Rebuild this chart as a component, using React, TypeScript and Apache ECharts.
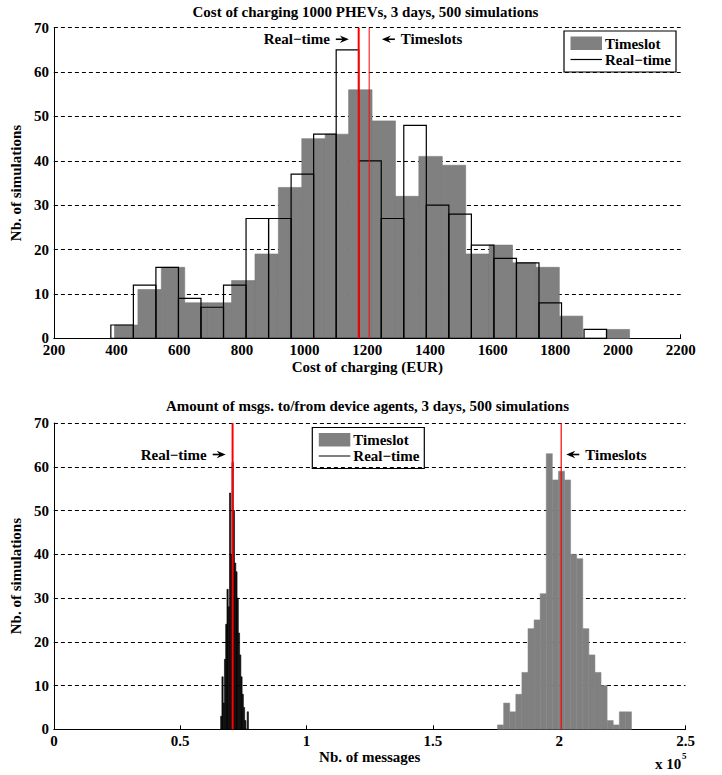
import React, { useEffect, useRef } from 'react';
import * as echarts from 'echarts';

const FONT = '"Liberation Serif", "Times New Roman", serif';
const BOLD15 = `bold 15px ${FONT}`;

// ---------- Top chart: cost of charging ----------
const costTitle = 'Cost of charging 1000 PHEVs, 3 days, 500 simulations';
const costAxisName = 'Cost of charging (EUR)';
const costMin = 200;
const costMax = 2200;
const costInterval = 200;
const costTimeslotStart = 393.4;
const costTimeslotWidth = 74.7;
const costTimeslotCounts = [3, 11, 16, 8, 8, 13, 19, 34, 45, 46, 56, 49, 32, 41, 39, 19, 21, 17, 16, 5, 0, 2];
const costRealtimeStart = 381.7;
const costRealtimeWidth = 71.9;
const costRealtimeCounts = [3, 12, 16, 9, 7, 12, 27, 27, 37, 46, 65, 40, 27, 48, 30, 28, 21, 18, 17, 8, 0, 2];
const costRealtimeMean = 1172.5;
const costTimeslotMean = 1206;
const costAnnotX = [1141, 1246.5];
const costAnnotY = [67.4, 67.4];

// ---------- Bottom chart: messages ----------
const msgTitle = 'Amount of msgs. to/from device agents, 3 days, 500 simulations';
const msgAxisName = 'Nb. of messages';
const msgMin = 0;
const msgMax = 250000;
const msgInterval = 50000;
const msgTimeslotStart = 175600;
const msgTimeslotWidth = 2410;
const msgTimeslotCounts = [1, 6, 4, 8, 13, 23, 25, 31, 63, 57, 59, 57, 40, 39, 23, 17, 13, 10, 2, 1, 4, 4];
const msgRealtimeStart = 66000;
const msgRealtimeWidth = 500;
const msgRealtimeCounts = [3, 12, 6, 16, 24, 32, 28, 54, 40, 61, 50, 38, 36, 30, 22, 17, 12, 8, 5, 2, 0, 4];
const msgRealtimeMean = 70730;
const msgTimeslotMean = 200800;
const msgAnnotX = [68000, 202800];
const msgAnnotY = [62.8, 62.8];
const msgScaleLabel = 'x 10';
const msgScaleExp = '5';

// ---------- Shared ----------
const yAxisName = 'Nb. of simulations';
const yMin = 0;
const yMax = 70;
const yInterval = 10;
const annotLabels = ['Real\u2212time', 'Timeslots'];
const annotDirs = [1, -1];
const legendLabels = ['Timeslot', 'Real\u2212time'];

const GRAY = '#808080';

function histData(start: number, width: number, counts: number[]) {
  return counts.map((c, i) => [start + i * width, start + (i + 1) * width, c]);
}

function histSeries(name: string, idx: number, data: number[][], style: any) {
  return {
    type: 'custom',
    name,
    xAxisIndex: idx,
    yAxisIndex: idx,
    data,
    encode: { x: [0, 1], y: 2 },
    renderItem: (params: any, api: any) => {
      const p0 = api.coord([api.value(0), 0]);
      const p1 = api.coord([api.value(1), api.value(2)]);
      return {
        type: 'rect',
        shape: { x: p0[0], y: p1[1], width: p1[0] - p0[0], height: p0[1] - p1[1] },
        style,
      };
    },
  };
}

function meanLineSeries(idx: number, values: number[], widths: number[]) {
  return {
    type: 'custom',
    xAxisIndex: idx,
    yAxisIndex: idx,
    data: values.map((v) => [v]),
    encode: { x: 0 },
    renderItem: (params: any, api: any) => {
      const pb = api.coord([api.value(0), yMin]);
      const pt = api.coord([api.value(0), yMax]);
      return {
        type: 'line',
        shape: { x1: pb[0], y1: pb[1], x2: pt[0], y2: pt[1] },
        style: { stroke: '#ff0000', lineWidth: widths[params.dataIndex] },
      };
    },
  };
}

function annotSeries(idx: number, xs: number[], ys: number[]) {
  return {
    type: 'custom',
    xAxisIndex: idx,
    yAxisIndex: idx,
    data: xs.map((x, i) => [x, ys[i]]),
    encode: { x: 0, y: 1 },
    renderItem: (params: any, api: any) => {
      const p = api.coord([api.value(0), api.value(1)]);
      const s = annotDirs[params.dataIndex];
      const tx = p[0];
      const ty = p[1];
      return {
        type: 'group',
        children: [
          {
            type: 'line',
            shape: { x1: tx - s * 13, y1: ty, x2: tx - s * 5, y2: ty },
            style: { stroke: '#000', lineWidth: 1.6 },
          },
          {
            type: 'polygon',
            shape: {
              points: [
                [tx, ty],
                [tx - s * 9, ty - 3.8],
                [tx - s * 6, ty],
                [tx - s * 9, ty + 3.8],
              ],
            },
            style: { fill: '#000' },
          },
          {
            type: 'text',
            x: tx - s * 19,
            y: ty,
            style: {
              text: annotLabels[params.dataIndex],
              font: BOLD15,
              fill: '#000',
              align: s > 0 ? 'right' : 'left',
              verticalAlign: 'middle',
              textAlign: s > 0 ? 'right' : 'left',
              textVerticalAlign: 'middle',
            },
          },
        ],
      };
    },
  };
}

function legendGraphic(left: number, top: number) {
  return {
    type: 'group',
    x: left,
    y: top,
    children: [
      { type: 'rect', shape: { x: 0, y: 0, width: 112, height: 41 }, style: { fill: '#fff', stroke: '#000', lineWidth: 1.2 } },
      { type: 'rect', shape: { x: 6.5, y: 5.5, width: 31.5, height: 13.5 }, style: { fill: GRAY } },
      { type: 'line', shape: { x1: 6.5, y1: 28.5, x2: 38, y2: 28.5 }, style: { stroke: '#000', lineWidth: 1.2 } },
      { type: 'text', x: 41, y: 12.5, style: { text: legendLabels[0], font: BOLD15, fill: '#000', verticalAlign: 'middle', textVerticalAlign: 'middle' } },
      { type: 'text', x: 41, y: 28.5, style: { text: legendLabels[1], font: BOLD15, fill: '#000', verticalAlign: 'middle', textVerticalAlign: 'middle' } },
    ],
  };
}

const labelStyle = { fontFamily: FONT, fontWeight: 'bold', fontSize: 15, color: '#000' };

function yAxisOpt(idx: number) {
  return {
    type: 'value',
    gridIndex: idx,
    min: yMin,
    max: yMax,
    interval: yInterval,
    name: yAxisName,
    nameLocation: 'middle',
    nameGap: 25,
    nameTextStyle: { ...labelStyle },
    axisLine: { show: true, lineStyle: { color: '#000', width: 1 } },
    axisTick: { show: true, inside: true, length: 4, lineStyle: { color: '#000' } },
    axisLabel: { ...labelStyle, margin: 5, lineHeight: 12 },
    splitLine: { show: true, lineStyle: { color: '#000', width: 1, type: [4, 3] } },
  };
}

export default function App() {
  const ref = useRef<HTMLDivElement>(null);
  useEffect(() => {
    if (!ref.current) return;
    const chart = echarts.init(ref.current, undefined, { renderer: 'svg' });
    const option: any = {
      animation: false,
      backgroundColor: '#fff',
      title: [
        { text: costTitle, left: 365.4, top: 4, padding: 0, textAlign: 'center', textStyle: { ...labelStyle, lineHeight: 16 } },
        { text: msgTitle, left: 367.5, top: 398, padding: 0, textAlign: 'center', textStyle: { ...labelStyle, lineHeight: 16 } },
      ],
      grid: [
        { left: 50, top: 27.7, width: 630.7, height: 310.6 },
        { left: 50, top: 423, width: 635.5, height: 306.3 },
      ],
      xAxis: [
        {
          type: 'value',
          gridIndex: 0,
          min: costMin,
          max: costMax,
          interval: costInterval,
          name: costAxisName,
          nameLocation: 'middle',
          nameGap: 21,
          nameTextStyle: { ...labelStyle },
          axisLine: { show: true, lineStyle: { color: '#000', width: 1 } },
          axisTick: { show: true, inside: true, length: 4, lineStyle: { color: '#000' } },
          axisLabel: { ...labelStyle, margin: 6, lineHeight: 12, formatter: (v: number) => String(v) },
          splitLine: { show: false },
        },
        {
          type: 'value',
          gridIndex: 1,
          min: msgMin,
          max: msgMax,
          interval: msgInterval,
          name: msgAxisName,
          nameLocation: 'middle',
          nameGap: 20,
          nameTextStyle: { ...labelStyle },
          axisLine: { show: true, lineStyle: { color: '#000', width: 1 } },
          axisTick: { show: true, inside: true, length: 4, lineStyle: { color: '#000' } },
          axisLabel: { ...labelStyle, margin: 6, lineHeight: 12, formatter: (v: number) => String(v / 100000) },
          splitLine: { show: false },
        },
      ],
      yAxis: [yAxisOpt(0), yAxisOpt(1)],
      series: [
        histSeries('Timeslot', 0, histData(costTimeslotStart, costTimeslotWidth, costTimeslotCounts), {
          fill: GRAY,
          stroke: '#777',
          lineWidth: 0.6,
        }),
        histSeries('Real-time', 0, histData(costRealtimeStart, costRealtimeWidth, costRealtimeCounts), {
          fill: 'none',
          stroke: '#000',
          lineWidth: 1.2,
        }),
        meanLineSeries(0, [costRealtimeMean, costTimeslotMean], [2, 1]),
        annotSeries(0, costAnnotX, costAnnotY),
        histSeries('Timeslot', 1, histData(msgTimeslotStart, msgTimeslotWidth, msgTimeslotCounts), {
          fill: GRAY,
          stroke: GRAY,
          lineWidth: 0.5,
        }),
        histSeries('Real-time', 1, histData(msgRealtimeStart, msgRealtimeWidth, msgRealtimeCounts), {
          fill: '#111',
          stroke: '#000',
          lineWidth: 0.6,
        }),
        meanLineSeries(1, [msgRealtimeMean, msgTimeslotMean], [2, 1.2]),
        annotSeries(1, msgAnnotX, msgAnnotY),
      ],
      graphic: [
        legendGraphic(564, 31),
        legendGraphic(312.3, 427.5),
        {
          type: 'text',
          x: 655,
          y: 764,
          style: { text: msgScaleLabel, font: BOLD15, fill: '#000', verticalAlign: 'middle', textVerticalAlign: 'middle' },
        },
        {
          type: 'text',
          x: 682,
          y: 756,
          style: { text: msgScaleExp, font: `bold 9px ${FONT}`, fill: '#000', verticalAlign: 'middle', textVerticalAlign: 'middle' },
        },
      ],
    };
    chart.setOption(option);
    return () => chart.dispose();
  }, []);
  return <div ref={ref} style={{ position: 'fixed', left: 0, top: 0, width: 722, height: 775 }} />;
}
